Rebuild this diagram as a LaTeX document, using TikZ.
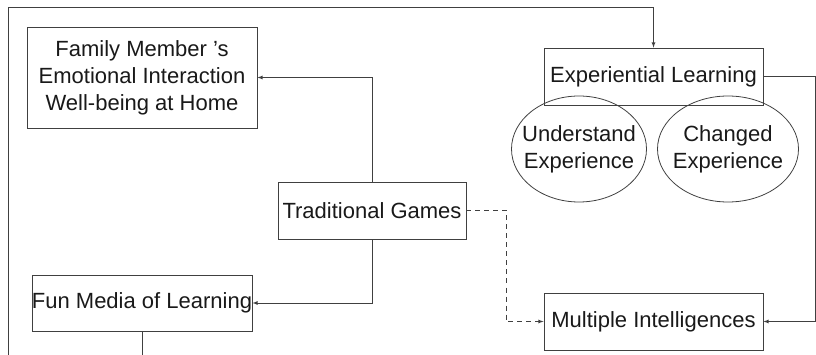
\documentclass[tikz,border=0pt]{standalone}
\usepackage{fontspec}
\setmainfont{Liberation Sans}
\usetikzlibrary{arrows,shapes,positioning}
\tikzstyle{edge}=[
	-latex,
	draw=black!75,
	line width=0.8pt
]
\tikzstyle{dedge}=[
    edge,
    dash pattern=on 5pt off 4pt
]
\tikzstyle{label}=[
    inner sep=0pt,
    align=center,
    text=black!90,
    font=\fontsize{22}{27}\selectfont
]
\tikzstyle{box}=[
    label,
	rectangle,
	draw=black!75,
	line width=0.8pt,
    minimum height=57pt
]
\tikzstyle{bubble}=[
    label,
	ellipse,
	draw=black!75,
	line width=0.8pt,
    inner xsep=-10pt,
    minimum height=106pt
]

\begin{document}
\begin{tikzpicture}[x=1pt, y=-1pt]
                \clip (0,0) rectangle (816,355);

\node[box, minimum width=230pt, minimum height=101pt] (fam) at (142,77.5)
    {Family Member ’s\\Emotional Interaction\\Well-being at Home};
\node[box, minimum width=188pt] (tg) at (372,210.5) {Traditional Games};
\node[box, minimum width=220pt, minimum height=56pt] (fm) at (142,303) {Fun Media of Learning};

\node[box, minimum width=219pt] (el) at (653.5,76.5) {Experiential Learning};
\node[bubble, minimum width=135pt] (ue) at (579,149) {Understand\\Experience};
\node[bubble, minimum width=141pt] (ce) at (728,149) {Changed\\Experience};
\node[box, minimum width=219pt] (mi) at (653.5,321.5) {Multiple Intelligences};

\coordinate (loopbl) at (8,365);
\coordinate (looptl) at (8,7);

\draw[edge] (tg.north) |- (fam.east);
\draw[edge] (tg.south) |- (fm.east);
\draw[dedge] (tg.east) -- ++(40,0) |- (mi.west);
\draw[edge] (el.east) -- ++(52,0) |- (mi.east);
\draw[edge] (fm.south) |- (loopbl) -- (looptl) -| (el.north);

            \end{tikzpicture}
\end{document}
